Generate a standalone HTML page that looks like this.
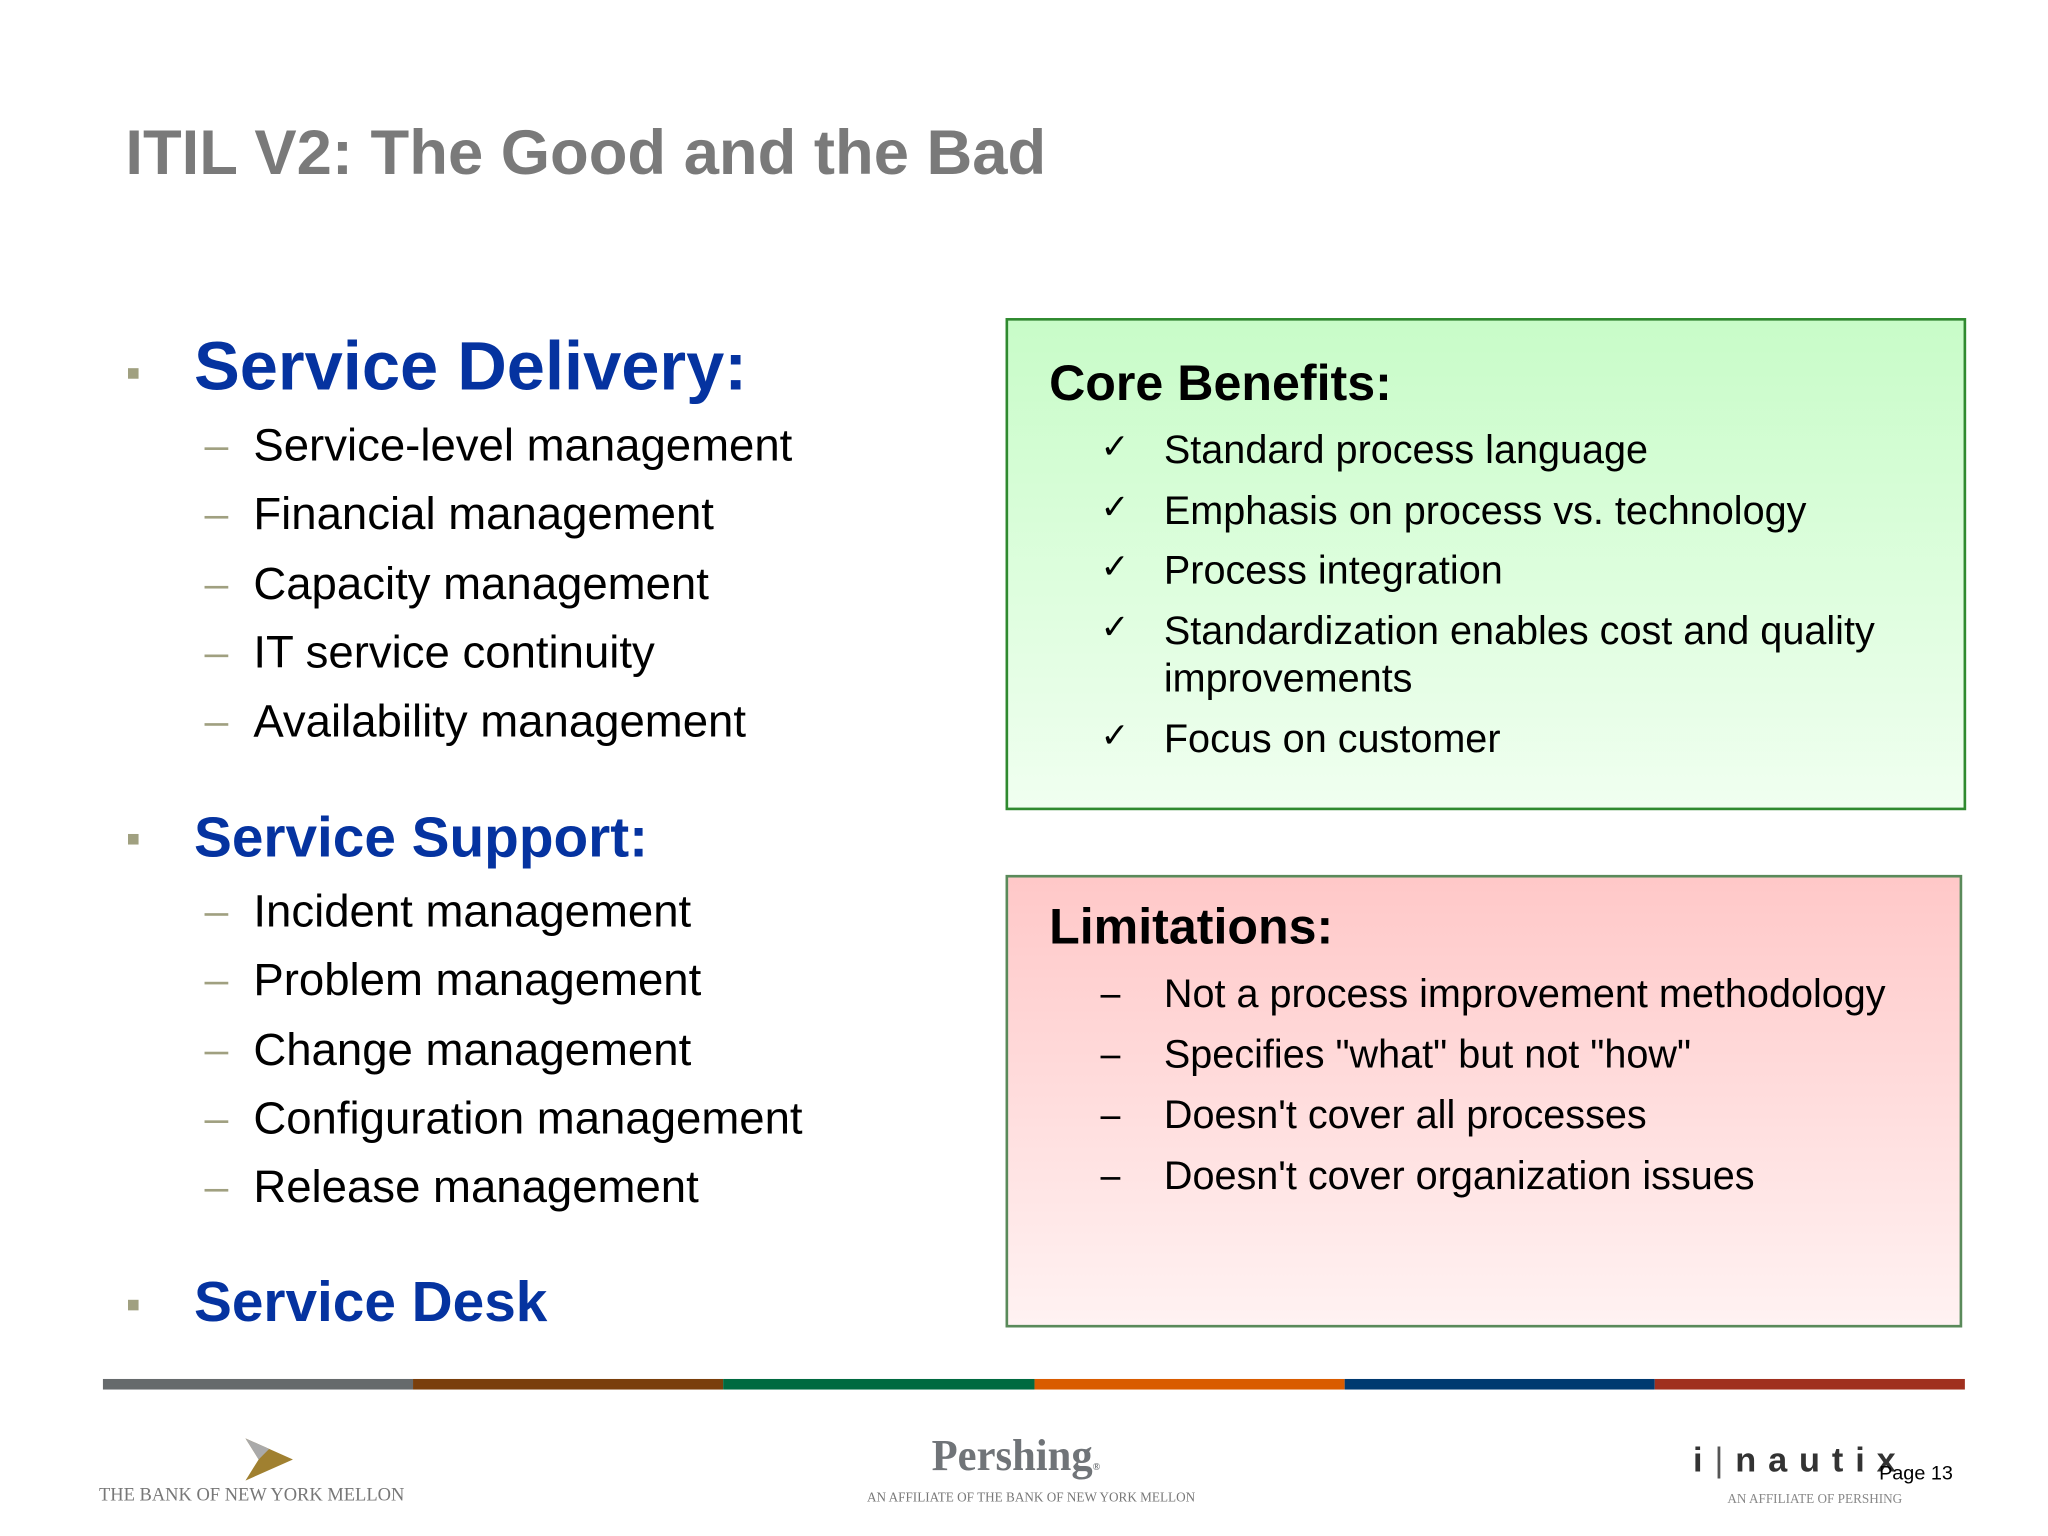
<!DOCTYPE html>
<html><head><meta charset="utf-8"><style>
html,body{margin:0;padding:0;width:2048px;height:1536px;overflow:hidden;background:#fff;}
#wrap{position:absolute;left:0;top:0;width:1552px;height:1164px;transform:scale(1.31959);transform-origin:0 0;font-family:"Liberation Sans",Arial,sans-serif;}
.t{position:absolute;white-space:nowrap;line-height:1;}
.sq{position:absolute;width:8px;height:8px;background:#a0a080;}
.dash{position:absolute;width:18px;height:2px;background:#a0a080;}
.box{position:absolute;box-sizing:border-box;}
</style></head><body>
<div id="wrap">
<div class="t" style="left:95px;top:93px;font-size:48px;font-weight:bold;color:#7a7a7a;">ITIL V2: The Good and the Bad</div>

<div class="sq" style="left:97px;top:279px"></div>
<div class="t" style="left:147px;top:252px;font-size:52px;font-weight:bold;color:#0533a0;">Service Delivery:</div>

<div class="sq" style="left:97px;top:632px"></div>
<div class="t" style="left:147px;top:614px;font-size:43px;font-weight:bold;color:#0533a0;">Service Support:</div>

<div class="sq" style="left:97px;top:985px"></div>
<div class="t" style="left:147px;top:966px;font-size:43px;font-weight:bold;color:#0533a0;">Service Desk</div>

<div class="box" style="left:762px;top:241px;width:728px;height:373px;border:2px solid #2f8a2f;background:linear-gradient(#c8fcc8,#f0fff0);"></div>
<div class="t" style="left:795px;top:272px;font-size:38px;font-weight:bold;color:#000;">Core Benefits:</div>

<div class="box" style="left:762px;top:663px;width:725px;height:343px;border:2px solid #5a8a5a;background:linear-gradient(#ffc8c8,#fff2f2);"></div>
<div class="t" style="left:795px;top:684px;font-size:38px;font-weight:bold;color:#000;">Limitations:</div>

<div style="position:absolute;left:78px;top:1045px;width:1411px;height:8px;display:flex;">
<div style="flex:1;background:#666a6c"></div>
<div style="flex:1;background:#7a3f0c"></div>
<div style="flex:1;background:#006a40"></div>
<div style="flex:1;background:#d95c00"></div>
<div style="flex:1;background:#003a70"></div>
<div style="flex:1;background:#a0301f"></div>
</div>

<svg style="position:absolute;left:182px;top:1090px" width="45" height="32"><polygon points="4,0 40,16 4,32 14,16" fill="#a08030"/><polygon points="4,0 22,8 14,16" fill="#aaa"/></svg>
<div class="t" style="left:75px;top:1127px;font-family:'Liberation Serif',serif;font-size:14px;color:#777;">THE BANK OF NEW YORK MELLON</div>
<div class="t" style="left:706px;top:1087px;font-family:'Liberation Serif',serif;font-size:34px;font-weight:bold;color:#707478;transform:scaleX(0.95);transform-origin:0 0;">Pershing<span style="font-size:8px">®</span></div>
<div class="t" style="left:657px;top:1131px;font-family:'Liberation Serif',serif;font-size:10px;color:#777;">AN AFFILIATE OF THE BANK OF NEW YORK MELLON</div>
<div class="t" style="left:1283px;top:1093px;font-size:26px;font-weight:bold;color:#333;letter-spacing:9px;">i<span style="font-weight:normal;color:#555">|</span>nautix</div>
<div class="t" style="left:1309px;top:1132px;font-family:'Liberation Serif',serif;font-size:10px;color:#888;">AN AFFILIATE OF PERSHING</div>
<div class="t" style="left:1424px;top:1109px;font-size:15px;color:#000;">Page 13</div>
</div>
<script>
var wrap=document.getElementById('wrap');
function addItem(name,text,x,baseline,fs,marker,mx){
  var d=document.createElement('div');
  d.className='t';
  
  
  d.style.left=x+'px';d.style.top=(baseline-0.85*fs)+'px';d.style.fontSize=fs+'px';d.style.color='#000';
  d.textContent=text;wrap.appendChild(d);
  if(marker==='dash'){
    var m=document.createElement('div');m.className='dash';
    
    
    m.style.left=mx+'px';m.style.top=(baseline-11)+'px';wrap.appendChild(m);
  }else if(marker==='–'){
    var m3=document.createElement('div');
    
    
    m3.style.cssText='position:absolute;width:15px;height:2px;background:#000;left:'+mx+'px;top:'+(baseline-10)+'px';
    wrap.appendChild(m3);
  }else if(marker){
    var m2=document.createElement('div');m2.className='t';
    
    
    m2.style.left=mx+'px';m2.style.top=(baseline-0.85*fs-2)+'px';m2.style.fontSize=(fs-4)+'px';
    m2.textContent=marker;wrap.appendChild(m2);
  }
}
var delivery=["Service-level management","Financial management","Capacity management","IT service continuity","Availability management"];
var dB=[350,402,455,507,559];
delivery.forEach(function(s,i){addItem('delivery-item',s,192,dB[i],34.5,'dash',155);});
var support=["Incident management","Problem management","Change management","Configuration management","Release management"];
var sB=[703,755,808,860,912];
support.forEach(function(s,i){addItem('support-item',s,192,sB[i],34.5,'dash',155);});
var benefits=["Standard process language","Emphasis on process vs. technology","Process integration","Standardization enables cost and quality","Focus on customer"];
var bB=[352,398,443,489,571];
benefits.forEach(function(s,i){addItem('benefit-item',s,882,bB[i],30,'✓',834);});
addItem('benefit-item-cont','improvements',882,525,30,'',882);
var limits=["Not a process improvement methodology","Specifies \"what\" but not \"how\"","Doesn't cover all processes","Doesn't cover organization issues"];
var lB=[764,810,856,902];
limits.forEach(function(s,i){addItem('limitation-item',s,882,lB[i],30,'–',834);});
</script>
</body></html>
